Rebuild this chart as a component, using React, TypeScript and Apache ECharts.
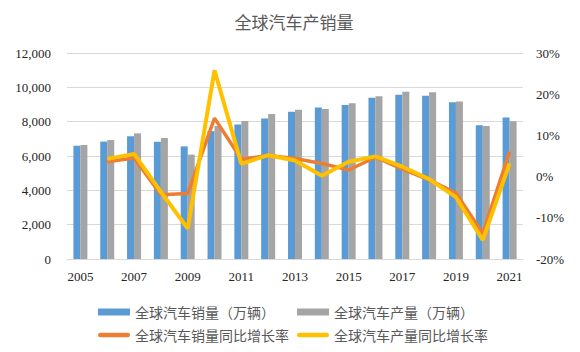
import React, { useEffect, useRef } from "react";
import * as echarts from "echarts";

const years = ["2005","2006","2007","2008","2009","2010","2011","2012","2013","2014","2015","2016","2017","2018","2019","2020","2021"];
const salesVolume = [6600, 6840, 7150, 6830, 6560, 7450, 7830, 8190, 8580, 8830, 8970, 9400, 9570, 9510, 9130, 7790, 8250];
const productionVolume = [6640, 6930, 7320, 7050, 6080, 7750, 8040, 8450, 8700, 8740, 9070, 9480, 9750, 9710, 9170, 7750, 8020];
const salesGrowth = [null, 3.6, 4.5, -4.4, -4.1, 14.2, 4.2, 5.1, 4.4, 3.2, 1.6, 4.7, 1.8, -0.8, -4.0, -13.8, 6.1];
const productionGrowth = [null, 4.3, 5.5, -3.7, -12.6, 25.8, 3.1, 5.2, 3.9, 0.2, 3.6, 4.9, 2.4, -0.6, -5.0, -15.4, 3.2];
const leftTicks = { min: 0, max: 12000, interval: 2000 };
const rightTicks = { min: -20, max: 30, interval: 10 };

const SERIF = '"Liberation Serif", "Times New Roman", "Noto Sans CJK SC", serif';
const CJK = '"Noto Sans CJK SC", "Liberation Serif", serif';
const LINE_ICON = "path://M2.25,0 L29.75,0 A2.25,2.25 0 0 1 29.75,4.5 L2.25,4.5 A2.25,2.25 0 0 1 2.25,0 Z";

export default function App() {
  const ref = useRef<HTMLDivElement>(null);
  useEffect(() => {
    if (!ref.current) return;
    const chart = echarts.init(ref.current, undefined, { renderer: "svg" });
    const legendText = { fontFamily: CJK, fontSize: 14, color: "#595959" };
    chart.setOption({
      animation: false,
      title: {
        text: "全球汽车产销量",
        left: 289,
        top: 8,
        textAlign: "center",
        textStyle: { fontFamily: CJK, fontSize: 17, fontWeight: "normal", color: "#595959" },
      },
      legend: [
        {
          orient: "vertical",
          left: 93,
          top: 300,
          itemWidth: 32,
          itemHeight: 7,
          itemGap: 9,
          symbolKeepAspect: true,
          textStyle: legendText,
          data: [
            { name: "全球汽车销量（万辆）", icon: "rect" },
            { name: "全球汽车销量同比增长率", icon: LINE_ICON },
          ],
        },
        {
          orient: "vertical",
          left: 292,
          top: 300,
          itemWidth: 32,
          itemHeight: 7,
          itemGap: 9,
          symbolKeepAspect: true,
          textStyle: legendText,
          data: [
            { name: "全球汽车产量（万辆）", icon: "rect" },
            { name: "全球汽车产量同比增长率", icon: LINE_ICON },
          ],
        },
      ],
      grid: { left: 67, right: 57, top: 53, bottom: 93 },
      xAxis: {
        type: "category",
        data: years,
        axisLine: { lineStyle: { color: "#d9d9d9" } },
        axisTick: { show: false },
        axisLabel: { interval: 1, margin: 11, fontFamily: SERIF, fontSize: 13, color: "#262626" },
      },
      yAxis: [
        {
          type: "value",
          min: leftTicks.min,
          max: leftTicks.max,
          interval: leftTicks.interval,
          axisLabel: {
            margin: 16,
            fontFamily: SERIF,
            fontSize: 13,
            color: "#262626",
            formatter: (v: number) => v.toLocaleString("en-US"),
          },
          splitLine: { lineStyle: { color: "#d9d9d9" } },
          axisLine: { show: false },
          axisTick: { show: false },
        },
        {
          type: "value",
          min: rightTicks.min,
          max: rightTicks.max,
          interval: rightTicks.interval,
          axisLabel: { margin: 13, fontFamily: SERIF, fontSize: 13, color: "#262626", formatter: "{value}%" },
          splitLine: { show: false },
          axisLine: { show: false },
          axisTick: { show: false },
        },
      ],
      series: [
        {
          name: "全球汽车销量（万辆）",
          type: "bar",
          data: salesVolume,
          barWidth: 7,
          barGap: "0%",
          itemStyle: { color: "#5B9BD5" },
        },
        {
          name: "全球汽车产量（万辆）",
          type: "bar",
          data: productionVolume,
          barWidth: 7,
          barGap: "0%",
          itemStyle: { color: "#A5A5A5" },
        },
        {
          name: "全球汽车销量同比增长率",
          type: "line",
          yAxisIndex: 1,
          data: salesGrowth,
          showSymbol: false,
          symbol: "none",
          lineStyle: { color: "#ED7D31", width: 3.5 },
          itemStyle: { color: "#ED7D31" },
        },
        {
          name: "全球汽车产量同比增长率",
          type: "line",
          yAxisIndex: 1,
          data: productionGrowth,
          showSymbol: false,
          symbol: "none",
          lineStyle: { color: "#FFC000", width: 4 },
          itemStyle: { color: "#FFC000" },
        },
      ],
    });
    return () => chart.dispose();
  }, []);
  return <div ref={ref} style={{ width: 580, height: 352, position: "absolute", left: 0, top: 0 }} />;
}
